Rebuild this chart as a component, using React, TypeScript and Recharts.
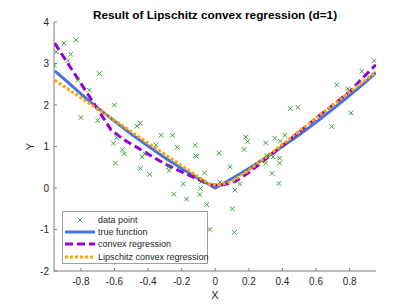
import { ComposedChart, Scatter, Line, XAxis, YAxis, Legend } from 'recharts'

const FONT = '"Liberation Sans", Arial, Helvetica, sans-serif'

const X_TICKS = [-0.8, -0.6, -0.4, -0.2, 0, 0.2, 0.4, 0.6, 0.8]
const Y_TICKS = [-2, -1, 0, 1, 2, 3, 4]

// noisy samples
const dataX = [
  -0.958, -0.947, -0.9, -0.83, -0.861, -0.878, -0.82, -0.75, -0.69, -0.6, -0.8, -0.7,
  -0.466, -0.446, -0.606, -0.588, -0.552, -0.541, -0.594, -0.446, -0.391, -0.436, -0.42,
  -0.353, -0.323, -0.255, -0.226, -0.12, -0.117, -0.11, -0.278, -0.275, -0.19, -0.246,
  -0.17, -0.064, -0.082, -0.088, -0.092, -0.051, -0.032,
  0.022, 0.028, 0.088, 0.102, 0.117, 0.114, 0.146, 0.172, 0.182, 0.193, 0.3, 0.305, 0.3,
  0.338, 0.354, 0.344, 0.383, 0.383, 0.378, 0.388, 0.415, 0.448, 0.492, 0.693, 0.723,
  0.789, 0.808, 0.873, 0.946,
]
const dataY = [
  2.96, 3.28, 3.49, 3.57, 3.22, 3.07, 2.6, 2.36, 2.76, 2.0, 1.7, 1.63,
  1.49, 1.56, 1.08, 1.21, 0.92, 0.82, 0.6, 0.47, 0.33, 0.75, 0.82,
  1.04, 1.27, 1.27, 0.98, 1.03, 0.78, 0.76, 0.51, 0.42, 0.1, -0.15,
  -0.27, 0.36, 0.15, -0.01, -0.16, -0.4, -1.0,
  0.84, 0.14, 0.51, -0.5, -0.05, -1.07, 0.1, 0.93, 1.23, 1.12, 1.09, 0.78, 0.6,
  0.35, 1.2, 0.75, 0.72, 0.6, 0.11, 1.13, 1.27, 1.91, 1.94, 1.48, 2.48,
  2.39, 1.81, 2.81, 3.07,
]

const trueX = [-0.956, -0.9, -0.8, -0.7, -0.6, -0.5, -0.4, -0.3, -0.2, -0.1, 0, 0.1, 0.2, 0.3, 0.4, 0.5, 0.6, 0.7, 0.8, 0.9, 0.956]
const trueY = [2.82, 2.63, 2.27, 1.93, 1.61, 1.3, 1.01, 0.73, 0.47, 0.23, 0, 0.23, 0.47, 0.73, 1.0, 1.28, 1.58, 1.9, 2.23, 2.57, 2.78]

const cvxX = [-0.956, -0.62, -0.55, -0.3, -0.1, -0.02, 0.05, 0.12, 0.2, 0.4, 0.6, 0.8, 0.87, 0.956]
const cvxY = [3.49, 1.4, 1.18, 0.58, 0.2, 0.07, 0.08, 0.16, 0.37, 1.02, 1.68, 2.32, 2.62, 2.97]

const lipX = [-0.956, -0.6, -0.3, -0.03, 0.03, 0.1, 0.2, 0.4, 0.6, 0.8, 0.956]
const lipY = [2.6, 1.63, 0.81, 0.08, 0.08, 0.16, 0.43, 1.05, 1.69, 2.31, 2.8]

const zip = (xs: number[], ys: number[]) => xs.map((x, i) => ({ x, y: ys[i] }))

const points = zip(dataX, dataY)
const trueLine = zip(trueX, trueY)
const cvxLine = zip(cvxX, cvxY)
const lipLine = zip(lipX, lipY)

const GREEN = '#3f9b3f'
const BLUE = '#4472e0'
const PURPLE = '#9400d3'
const ORANGE = '#ffa500'

const LEGEND = [
  { name: 'data point', kind: 'marker' },
  { name: 'true function', kind: 'solid' },
  { name: 'convex regression', kind: 'dash' },
  { name: 'Lipschitz convex regression', kind: 'dot' },
]

const Cross = (props: any) => {
  const { cx, cy } = props
  if (cx == null || cy == null) return null
  const r = 2.3
  return (
    <g stroke={GREEN} strokeWidth={1}>
      <line x1={cx - r} y1={cy - r} x2={cx + r} y2={cy + r} />
      <line x1={cx - r} y1={cy + r} x2={cx + r} y2={cy - r} />
    </g>
  )
}

const LegendBox = () => (
  <div
    style={{
      border: '1px solid #a0a0a0',
      background: '#fff',
      width: 144,
      height: 49,
      paddingTop: 2,
      fontFamily: FONT,
      fontSize: 9,
      color: '#262626',
      boxSizing: 'content-box',
    }}
  >
    {LEGEND.map((e) => (
      <div key={e.name} style={{ display: 'flex', alignItems: 'center', height: 12.2 }}>
        <svg width={34} height={12} style={{ flex: 'none' }}>
          {e.kind === 'marker' && <Cross cx={17} cy={6} />}
          {e.kind === 'solid' && <line x1={2} y1={6} x2={32} y2={6} stroke={BLUE} strokeWidth={3} />}
          {e.kind === 'dash' && (
            <line x1={2} y1={6} x2={32} y2={6} stroke={PURPLE} strokeWidth={3} strokeDasharray="8 4" />
          )}
          {e.kind === 'dot' && (
            <line x1={2} y1={6} x2={32} y2={6} stroke={ORANGE} strokeWidth={3} strokeDasharray="3 2" />
          )}
        </svg>
        <span style={{ whiteSpace: 'nowrap', marginLeft: 1 }}>{e.name}</span>
      </div>
    ))}
  </div>
)

export default function App() {
  const tick = { fill: '#262626', fontSize: 10, fontFamily: FONT }
  return (
    <div style={{ position: 'absolute', left: 0, top: 0, width: 415, height: 305, background: '#fff' }}>
      <div
        style={{
          position: 'absolute',
          left: 54,
          width: 322,
          top: 8,
          textAlign: 'center',
          fontFamily: FONT,
          fontWeight: 'bold',
          fontSize: 11.8,
          color: '#000',
          lineHeight: '14px',
        }}
      >
        Result of Lipschitz convex regression (d=1)
      </div>
      <ComposedChart width={415} height={305} margin={{ top: 22, right: 39, bottom: 14, left: 0 }}>
        <XAxis
          type="number"
          dataKey="x"
          domain={[-0.96, 0.957]}
          ticks={X_TICKS}
          allowDataOverflow
          height={20}
          tick={tick}
          tickSize={-3}
          tickMargin={10}
          stroke="#808080"
          tickFormatter={(v: number) => String(v)}
        />
        <YAxis
          type="number"
          dataKey="y"
          domain={[-2, 4]}
          ticks={Y_TICKS}
          allowDataOverflow
          width={54}
          tick={tick}
          tickSize={-3}
          tickMargin={8}
          stroke="#808080"
        />
        <Scatter data={points} shape={<Cross />} isAnimationActive={false} />
        <Line data={trueLine} dataKey="y" type="linear" stroke={BLUE} strokeWidth={3} dot={false} isAnimationActive={false} />
        <Line
          data={cvxLine}
          dataKey="y"
          type="linear"
          stroke={PURPLE}
          strokeWidth={3}
          strokeDasharray="8 4"
          dot={false}
          isAnimationActive={false}
        />
        <Line
          data={lipLine}
          dataKey="y"
          type="linear"
          stroke={ORANGE}
          strokeWidth={3}
          strokeDasharray="3 2"
          dot={false}
          isAnimationActive={false}
        />
        <Legend
          layout="vertical"
          align="center"
          verticalAlign="middle"
          content={() => <LegendBox />}
          wrapperStyle={{ left: 62, top: 211, right: 'auto', bottom: 'auto', width: 146, height: 52 }}
        />
      </ComposedChart>
      <div
        style={{
          position: 'absolute',
          left: 209,
          top: 289,
          width: 12,
          textAlign: 'center',
          fontFamily: FONT,
          fontSize: 11,
          color: '#262626',
          lineHeight: '13px',
        }}
      >
        X
      </div>
      <div
        style={{
          position: 'absolute',
          left: 24,
          top: 140,
          width: 12,
          textAlign: 'center',
          fontFamily: FONT,
          fontSize: 11,
          color: '#262626',
          lineHeight: '13px',
          transform: 'rotate(-90deg)',
        }}
      >
        Y
      </div>
    </div>
  )
}
